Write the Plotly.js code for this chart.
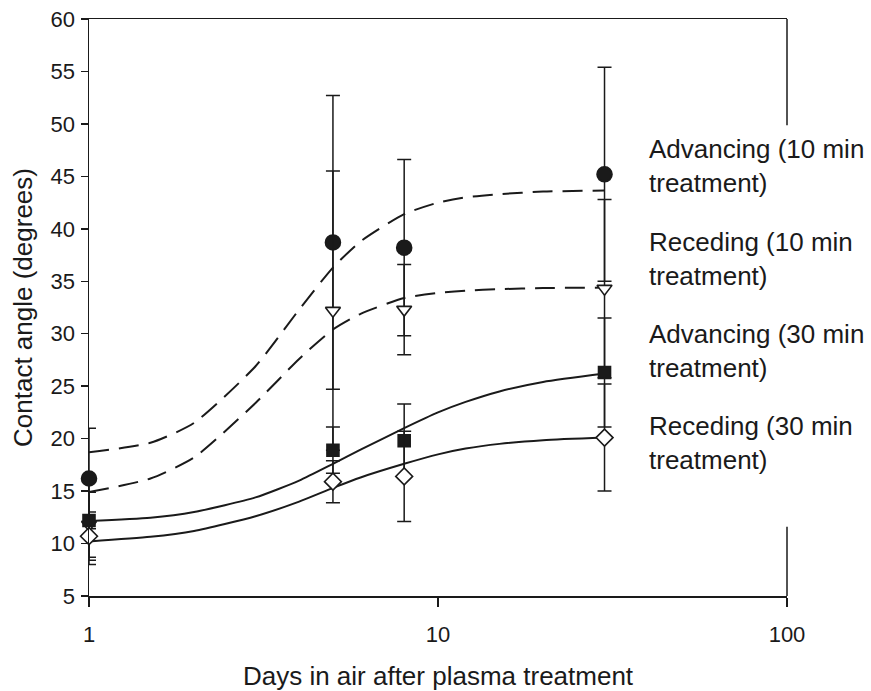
<!DOCTYPE html>
<html>
<head>
<meta charset="utf-8">
<script src="https://cdn.plot.ly/plotly-3.0.1.min.js"></script>
<style>html,body{margin:0;padding:0;background:#fff;}#chart{width:871px;height:691px;}</style>
</head>
<body>
<div id="chart"></div>
<script>
// Measured data (days after treatment)
var days = [1, 5, 8, 30];
var adv10 = [16.2, 38.7, 38.2, 45.2];
var adv10Err = [4.8, 14.0, 8.4, 10.2];
var rec10 = [11.8, 32.2, 32.3, 34.3];
var rec10Err = [3.1, 13.3, 4.3, 8.5];
var adv30 = [12.2, 18.9, 19.8, 26.3];
var adv30Err = [4.2, 2.2, 3.5, 5.2];
var rec30 = [10.7, 15.9, 16.4, 20.1];
var rec30Err = [2.3, 2.0, 4.3, 5.1];

// Fitted curves
var curveDays = [1, 1.5, 2, 3, 4, 5, 6, 8, 10, 12, 15, 20, 30];
var adv10Fit = [18.7, 19.6, 21.5, 26.9, 32.3, 36.3, 38.8, 41.4, 42.5, 43.0, 43.3, 43.55, 43.65];
var rec10Fit = [14.9, 16.2, 18.2, 23.4, 27.6, 30.4, 31.9, 33.4, 33.9, 34.1, 34.25, 34.35, 34.4];
var adv30Fit = [12.15, 12.45, 13.0, 14.4, 16.0, 17.6, 18.95, 21.0, 22.5, 23.5, 24.5, 25.4, 26.2];
var rec30Fit = [10.2, 10.64, 11.2, 12.6, 14.0, 15.3, 16.3, 17.6, 18.5, 19.05, 19.5, 19.85, 20.1];

var seriesNames = ["Advancing (10 min<br>treatment)", "Receding (10 min<br>treatment)",
                   "Advancing (30 min<br>treatment)", "Receding (30 min<br>treatment)"];
var xTickVals = [1, 10, 100];
var xTickText = ["1", "10", "100"];

var ink = "#1a1a1a";
var FONT = "Liberation Sans, Arial, sans-serif";

function fit(y, dash) {
  return {x: curveDays, y: y, type: "scatter", mode: "lines", showlegend: false, hoverinfo: "skip",
          line: {color: ink, width: 2, dash: dash, shape: "spline", smoothing: 0.6}};
}
function pts(y, err, symbol, size, fill) {
  return {x: days, y: y, type: "scatter", mode: "markers", showlegend: false, cliponaxis: false,
          error_y: {type: "data", array: err, visible: true, color: ink, thickness: 1.5, width: 7},
          marker: {symbol: symbol, size: size, color: fill, line: {color: ink, width: 1.6}}};
}

var data = [
  fit(adv10Fit, "20px,10px"),
  fit(rec10Fit, "20px,10px"),
  fit(adv30Fit, "solid"),
  fit(rec30Fit, "solid"),
  pts(adv10, adv10Err, "circle", 15, ink),
  pts(rec10, rec10Err, "triangle-down", 13, "#ffffff"),
  pts(adv30, adv30Err, "square", 12, ink),
  pts(rec30, rec30Err, "diamond", 13, "#ffffff")
];

var labelY = [0.745, 0.584, 0.425, 0.266];
var annotations = seriesNames.map(function (t, i) {
  return {text: t, xref: "paper", yref: "paper", x: 0.8, y: labelY[i], xanchor: "left", yanchor: "middle",
          align: "left", showarrow: false, font: {family: FONT, size: 26, color: ink}};
});

var layout = {
  width: 871, height: 691,
  margin: {l: 89, r: 84, t: 19, b: 95},
  paper_bgcolor: "#ffffff", plot_bgcolor: "#ffffff",
  font: {family: FONT, color: ink},
  xaxis: {type: "log", range: [0, 2], tickvals: xTickVals, ticktext: xTickText,
          showgrid: false, zeroline: false, showline: true, linecolor: ink, linewidth: 1.5,
          mirror: true, ticks: "outside", ticklen: 9, tickwidth: 1.5, tickcolor: ink,
          ticklabelstandoff: 9, tickfont: {size: 22, family: FONT, color: ink},
          title: {text: "Days in air after plasma treatment", font: {size: 26, family: FONT, color: ink}, standoff: 22}},
  yaxis: {range: [5, 60], dtick: 5, tick0: 0, showgrid: false, zeroline: false, showline: true,
          linecolor: ink, linewidth: 1.5, ticks: "outside", ticklen: 7, tickwidth: 1.5, tickcolor: ink,
          ticklabelstandoff: 1, tickfont: {size: 22, family: FONT, color: ink},
          title: {text: "Contact angle (degrees)", font: {size: 26, family: FONT, color: ink}, standoff: 10}},
  shapes: [
    {type: "line", xref: "paper", yref: "paper", x0: 1, x1: 1, y0: 1, y1: 0.816, line: {color: ink, width: 1.5}},
    {type: "line", xref: "paper", yref: "paper", x0: 1, x1: 1, y0: 0.12, y1: 0, line: {color: ink, width: 1.5}}
  ],
  annotations: annotations
};

Plotly.newPlot("chart", data, layout, {staticPlot: true, displayModeBar: false});
</script>
</body>
</html>
